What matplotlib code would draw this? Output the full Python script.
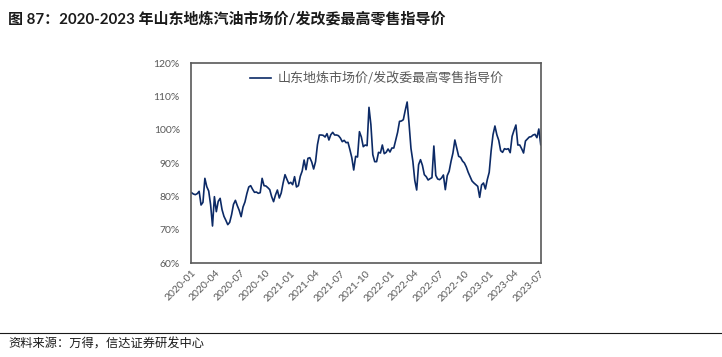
"""Shandong independent-refinery gasoline price vs NDRC max retail guide price (ratio)."""

import matplotlib
matplotlib.use("Agg")
import matplotlib.dates as mdates
import matplotlib.pyplot as plt
import pandas as pd
from matplotlib.ticker import FuncFormatter, MultipleLocator

plt.rcParams["font.family"] = ["Lato", "Noto Sans CJK SC", "DejaVu Sans"]

INK = "#1a1a1a"
GREY = "#595959"
NAVY = "#0c2a66"

TITLE = "图 87：2020-2023 年山东地炼汽油市场价/发改委最高零售指导价"
SERIES_NAME = "山东地炼市场价/发改委最高零售指导价"
SOURCE = "资料来源：万得，信达证券研发中心"

# weekly ratio (%), first Friday of 2020 onward
start_date = "2020-01-03"
ratio = [
    81.1, 80.7, 80.5, 80.8, 81.5, 77.4, 78.2, 85.4, 82.9, 81.6, 77.5, 71.1, 79.9,
    75.4, 78.5, 79.4, 76.0, 74.0, 72.8, 71.5, 72.2, 74.5, 77.6, 78.8, 77.2, 75.8,
    73.9, 76.8, 78.3, 80.8, 82.8, 83.2, 82.1, 81.2, 81.3, 80.9, 81.1, 85.4, 83.2,
    83.1, 82.6, 82.0, 79.9, 78.4, 80.4, 81.9, 79.5, 81.0, 84.0, 86.5, 85.1, 83.8,
    84.2, 83.5, 85.9, 82.8, 83.2, 86.0, 87.6, 90.9, 88.0, 91.4, 91.6, 90.3, 88.2,
    90.4, 95.5, 98.4, 98.4, 98.3, 97.8, 98.8, 96.9, 98.5, 99.2, 98.4, 98.4, 98.2,
    97.5, 96.4, 96.8, 96.1, 96.2, 94.0, 91.6, 87.9, 92.0, 91.8, 99.4, 97.8, 94.9,
    95.4, 95.2, 106.7, 101.5, 92.5, 90.4, 90.4, 93.2, 93.0, 95.4, 92.8, 93.2, 94.2,
    93.3, 94.5, 94.5, 96.8, 99.2, 102.5, 102.6, 103.0, 105.8, 108.3, 101.8, 94.4, 90.5,
    84.8, 81.9, 89.5, 91.0, 89.3, 86.5, 85.9, 84.9, 85.3, 85.6, 95.1, 86.3, 85.2,
    85.0, 85.5, 86.4, 82.0, 86.2, 87.5, 90.5, 93.0, 96.9, 94.5, 92.0, 91.7, 90.6,
    90.0, 88.8, 87.2, 85.9, 84.6, 84.0, 83.5, 83.0, 79.7, 83.4, 84.0, 82.2, 85.0,
    87.2, 93.6, 98.5, 101.1, 98.5, 96.8, 93.7, 93.2, 94.3, 94.1, 94.3, 93.1, 98.0,
    99.8, 101.4, 95.4, 95.4, 94.3, 93.0, 96.6, 97.2, 97.8, 97.9, 98.4, 98.6, 97.6,
    100.2, 95.5,
]
dates = pd.date_range(start_date, periods=len(ratio), freq="7D")

fig = plt.figure(figsize=(7.22, 3.57), dpi=100)
fig.patch.set_facecolor("white")
ax = fig.add_axes([0.2645, 0.2633, 0.4848, 0.5602])

ax.plot(dates, ratio, color=NAVY, linewidth=1.2, label=SERIES_NAME)

ax.set_ylim(60, 120)
ax.yaxis.set_major_locator(MultipleLocator(10))
ax.yaxis.set_major_formatter(FuncFormatter(lambda v, _: f"{v:.0f}%"))
ax.set_xlim(pd.Timestamp("2020-01-01"), pd.Timestamp("2023-07-08"))
ax.xaxis.set_major_locator(mdates.MonthLocator(bymonth=[1, 4, 7, 10]))
ax.xaxis.set_major_formatter(mdates.DateFormatter("%Y-%m"))

for spine in ax.spines.values():
    spine.set_color(GREY)
    spine.set_linewidth(1.2)
ax.tick_params(axis="both", length=0, labelsize=7.5, labelcolor=GREY)
ax.tick_params(axis="y", pad=8)
ax.tick_params(axis="x", pad=4)
for lbl in ax.get_xticklabels():
    lbl.set_rotation(45)
    lbl.set_ha("right")
    lbl.set_rotation_mode("anchor")

leg = ax.legend(loc="upper center", bbox_to_anchor=(0.53, 1.015), frameon=False,
                handlelength=1.6, handletextpad=0.5,
                prop={"family": ["Noto Sans CJK SC"], "size": 9.4})
for txt in leg.get_texts():
    txt.set_color(GREY)

fig.text(0.011, 0.948, TITLE, fontsize=10.8, fontweight="bold", color=INK,
         va="center", ha="left")
fig.add_artist(plt.Line2D([0.0, 1.0], [0.067, 0.067], color=INK, linewidth=0.8))
fig.text(0.011, 0.038, SOURCE, fontsize=8.8, style="italic", color=INK,
         va="center", ha="left")

fig.savefig("out.png", dpi=100, facecolor="white")
